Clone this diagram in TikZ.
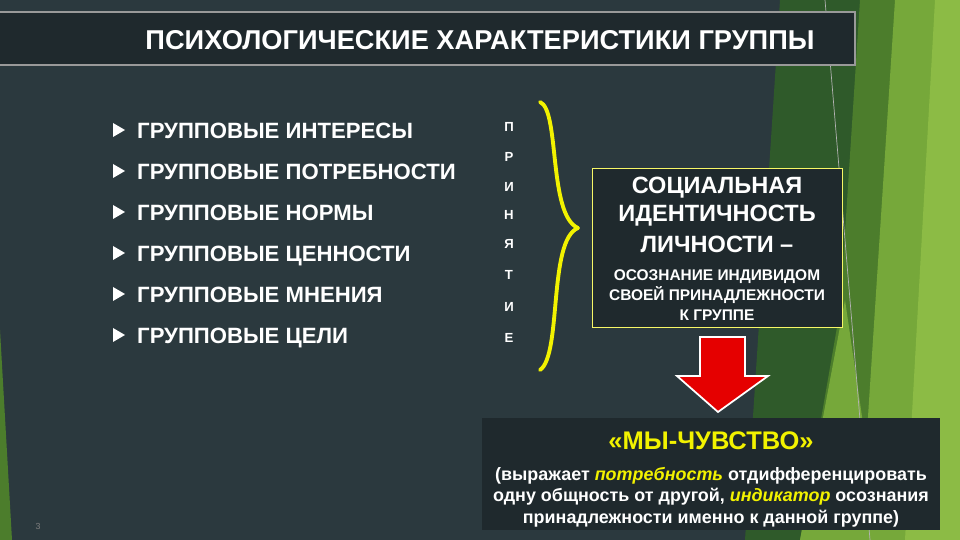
\documentclass[tikz,border=0pt]{standalone}
\usepackage{fontspec}
\setmainfont{Liberation Sans}
\begin{document}
\begin{tikzpicture}[x=0.02cm,y=-0.02cm,
  item/.style={anchor=base west,text=white,font=\bfseries\fontsize{12.6}{15}\selectfont},
  letter/.style={text=white,font=\bfseries\fontsize{7.5}{9}\selectfont},
  big/.style={text=white,font=\bfseries\fontsize{13.4}{16}\selectfont},
  small/.style={text=white,font=\bfseries\fontsize{8.8}{11.5}\selectfont,align=center}]
\definecolor{bg}{HTML}{2B393E}
\definecolor{boxbg}{HTML}{1F292D}
\definecolor{g1}{HTML}{2F5A2A}
\definecolor{g2}{HTML}{4C7D2C}
\definecolor{g3}{HTML}{76A83A}
\definecolor{g4}{HTML}{8CBB45}
\definecolor{yel}{HTML}{F2F200}
\useasboundingbox (0,0) rectangle (960,540);
\fill[bg] (0,0) rectangle (960,540);
% green background shapes
\fill[g1] (780,0) -- (960,0) -- (960,540) -- (745,540) -- cycle;
\fill[g2] (860,0) -- (960,0) -- (960,540) -- (800,540) -- (840,310) -- cycle;
\fill[g3] (895,0) -- (960,0) -- (960,540) -- (860,540) -- cycle;
\fill[g4] (935,0) -- (960,0) -- (960,540) -- (905,540) -- cycle;
\fill[g3] (800,540) -- (845,300) -- (880,540) -- cycle;
\fill[g2] (0,330) -- (12,540) -- (0,540) -- cycle;
\draw[gray!60,thin] (825,0) -- (870,540);
% title
\fill[boxbg] (0,12) rectangle (855,65);
\draw[gray!80,line width=0.8pt] (0,12) -- (855,12) -- (855,65) -- (0,65);
\node[text=white,font=\bfseries\fontsize{15.5}{18}\selectfont] (title) at (480,40) {ПСИХОЛОГИЧЕСКИЕ ХАРАКТЕРИСТИКИ ГРУППЫ};
% items
\foreach \t [count=\i] in {ГРУППОВЫЕ ИНТЕРЕСЫ,ГРУППОВЫЕ ПОТРЕБНОСТИ,ГРУППОВЫЕ НОРМЫ,ГРУППОВЫЕ ЦЕННОСТИ,ГРУППОВЫЕ МНЕНИЯ,ГРУППОВЫЕ ЦЕЛИ}{
  \pgfmathsetmacro\yy{130+41*(\i-1)}
  \fill[white] (113,\yy-7) -- (125,\yy) -- (113,\yy+7) -- cycle;
  \node[item] (it\i) at (131,\yy+9) {\t};
}
% vertical word
\foreach \l/\yy [count=\i] in {П/127,Р/157,И/187,Н/215,Я/244,Т/275,И/307,Е/338}
  \node[letter] (L\i) at (509,\yy) {\l};
% brace
\coordinate (bt) at (540,102);
\coordinate (bm) at (578,228);
\coordinate (bb) at (540,370);
\draw[yel,line width=2.2pt,line cap=round] (bt) .. controls (560,110) and (548,215) .. (bm);
\draw[yel,line width=2.2pt,line cap=round] (bm) .. controls (548,240) and (562,355) .. (bb);
% social identity box
\fill[boxbg] (592,168) rectangle (842,327);
\draw[yel!60!white,thin] (592,168) rectangle (842,327);
\node[big] (s1) at (717,188) {СОЦИАЛЬНАЯ};
\node[big] (s2) at (717,216) {ИДЕНТИЧНОСТЬ};
\node[big] (s3) at (717,244) {ЛИЧНОСТИ –};
\node[small] (s4) at (717,295) {ОСОЗНАНИЕ ИНДИВИДОМ\\СВОЕЙ ПРИНАДЛЕЖНОСТИ\\К ГРУППЕ};
% red arrow
\filldraw[fill=red!90!black,draw=white,line width=1pt] (700,337) -- (745,337) -- (745,376) -- (768,376) -- (718,412) -- (677,376) -- (700,376) -- cycle;
% bottom box
\fill[boxbg] (482,418) rectangle (940,530);
\node[text=yel,font=\bfseries\fontsize{14.5}{16}\selectfont] (we) at (711,441) {«МЫ-ЧУВСТВО»};
\node[text=white,font=\bfseries\fontsize{10.2}{12.2}\selectfont,align=center] (wt) at (711,497)
 {(выражает {\color{yel}\itshape потребность} отдифференцировать\\одну общность от другой, {\color{yel}\itshape индикатор} осознания\\принадлежности именно к данной группе)};
\node[text=gray,font=\fontsize{5}{6}\selectfont] (pn) at (38,526) {3};
\end{tikzpicture}
\end{document}
